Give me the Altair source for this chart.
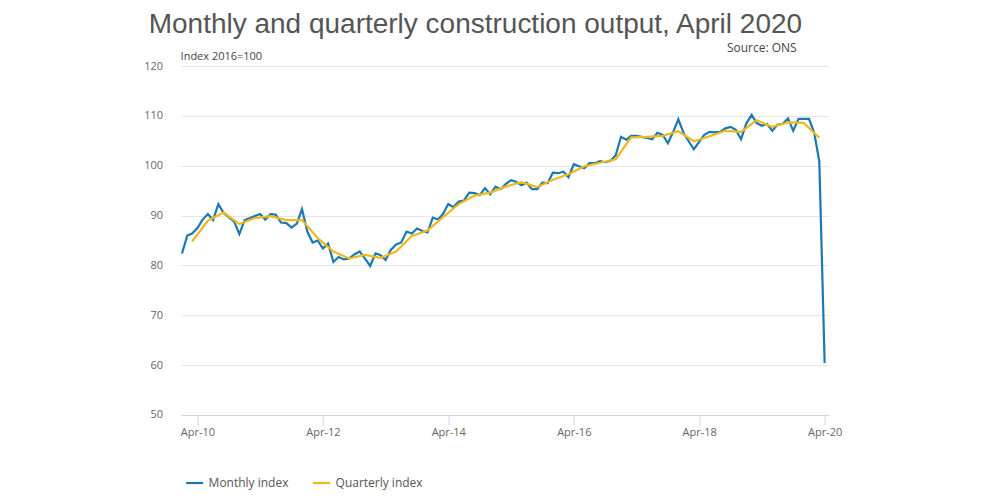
import altair as alt
import pandas as pd

# Construction output, index 2016=100
monthly_index = [
    82.4, 86.0, 86.4, 87.5, 89.2, 90.3, 89.1, 92.3, 90.5, 89.7, 88.8, 86.3,
    89.1, 89.5, 89.9, 90.3, 89.2, 90.3, 90.2, 88.6, 88.5, 87.6, 88.4, 91.3,
    86.8, 84.6, 85.0, 83.4, 84.4, 80.7, 81.7, 81.2, 81.4, 82.2, 82.8, 81.4,
    79.9, 82.4, 82.1, 81.1, 83.1, 84.2, 84.6, 86.8, 86.4, 87.4, 86.9, 86.6,
    89.6, 89.2, 90.3, 92.3, 91.7, 92.8, 93.0, 94.6, 94.5, 94.1, 95.5, 94.3,
    95.8, 95.3, 96.3, 97.1, 96.8, 96.1, 96.6, 95.3, 95.3, 96.6, 96.5, 98.6,
    98.5, 98.8, 97.7, 100.3, 99.9, 99.5, 100.5, 100.5, 100.9, 100.7, 101.0, 102.1,
    105.8, 105.2, 106.0, 106.0, 105.8, 105.6, 105.3, 106.6, 106.2, 104.5, 106.8, 109.3,
    106.5, 104.8, 103.3, 104.8, 106.2, 106.8, 106.7, 106.8, 107.5, 107.8, 107.2, 105.3,
    108.5, 110.2, 108.6, 108.0, 108.4, 107.0, 108.2, 108.4, 109.5, 107.0, 109.4, 109.4,
    109.4, 106.5, 100.8, 60.4,
]

# one value per quarter, plotted at the last month of the quarter
quarterly_index = [
    84.8, 89.0, 90.6, 88.3,
    89.5, 89.9, 89.1, 89.1,
    85.5, 82.8, 81.4, 82.1,
    81.5, 82.8, 85.9, 87.0,
    89.7, 92.3, 94.0, 94.6,
    95.8, 96.7, 95.7, 97.2,
    98.3, 99.9, 100.6, 101.3,
    105.7, 105.8, 106.0, 106.9,
    104.9, 105.9, 107.0, 106.8,
    109.1, 107.8, 108.7, 108.6,
    105.6,
]

series_names = ["Monthly index", "Quarterly index"]
series_colors = ["#1a78b2", "#efb91b"]
tick_years = [2010, 2012, 2014, 2016, 2018, 2020]

months = pd.date_range("2010-01-01", periods=len(monthly_index), freq="MS")
quarter_ends = pd.date_range("2010-03-01", periods=len(quarterly_index), freq="3MS")

data = pd.concat([
    pd.DataFrame({"date": months, "value": monthly_index, "series": series_names[0]}),
    pd.DataFrame({"date": quarter_ends, "value": quarterly_index, "series": series_names[1]}),
])

lines = (
    alt.Chart(data)
    .mark_line(strokeWidth=2.2)
    .encode(
        x=alt.X(
            "date:T",
            title=None,
            scale=alt.Scale(domain=[
                alt.DateTime(year=2009, month=12, date=24),
                alt.DateTime(year=2020, month=4, date=24),
            ]),
            axis=alt.Axis(
                values=[alt.DateTime(year=y, month=4, date=1) for y in tick_years],
                format="%b-%y",
                grid=False,
                domainColor="#ccd6eb",
                tickColor="#ccd6eb",
                tickSize=10,
                labelPadding=2,
            ),
        ),
        y=alt.Y(
            "value:Q",
            title=None,
            scale=alt.Scale(domain=[50, 120], nice=False, zero=False),
            axis=alt.Axis(
                values=[50, 60, 70, 80, 90, 100, 110, 120],
                domain=False,
                ticks=False,
                gridColor="#e6e6e6",
                labelPadding=18,
            ),
        ),
        color=alt.Color(
            "series:N",
            title=None,
            scale=alt.Scale(domain=series_names, range=series_colors),
            legend=alt.Legend(
                orient="none",
                direction="horizontal",
                legendX=4,
                legendY=407,
                symbolType="stroke",
                symbolStrokeWidth=2.2,
                symbolSize=289,
                labelFontSize=12,
                labelColor="#555555",
                labelFont="Open Sans",
                columnPadding=20,
            ),
        ),
    )
)

note = pd.DataFrame({"label": ["Index 2016=100"]})
unit_text = (
    alt.Chart(note)
    .mark_text(align="left", baseline="middle", fontSize=11, font="Open Sans", color="#444444")
    .encode(x=alt.value(0), y=alt.value(-9), text="label:N")
)

source = pd.DataFrame({"label": ["Source: ONS"]})
source_text = (
    alt.Chart(source)
    .mark_text(align="right", baseline="middle", fontSize=12, font="Open Sans", color="#444444")
    .encode(x=alt.value(616), y=alt.value(-18), text="label:N")
)

chart = (
    alt.layer(lines, unit_text, source_text)
    .properties(
        width=648,
        height=349,
        title=alt.TitleParams(
            "Monthly and quarterly construction output, April 2020",
            anchor="start",
            font="Liberation Sans",
            fontSize=28,
            fontWeight="normal",
            color="#555555",
            dx=5,
            offset=3,
        ),
        autosize=alt.AutoSizeParams(type="none"),
        padding={"left": 172.6, "top": 58, "right": 150, "bottom": 80},
    )
    .configure_view(stroke=None)
    .configure_axis(labelFont="Open Sans", labelFontSize=11, labelColor="#666666")
)

chart.save("out.html", embed_options={"renderer": "svg", "actions": False})
